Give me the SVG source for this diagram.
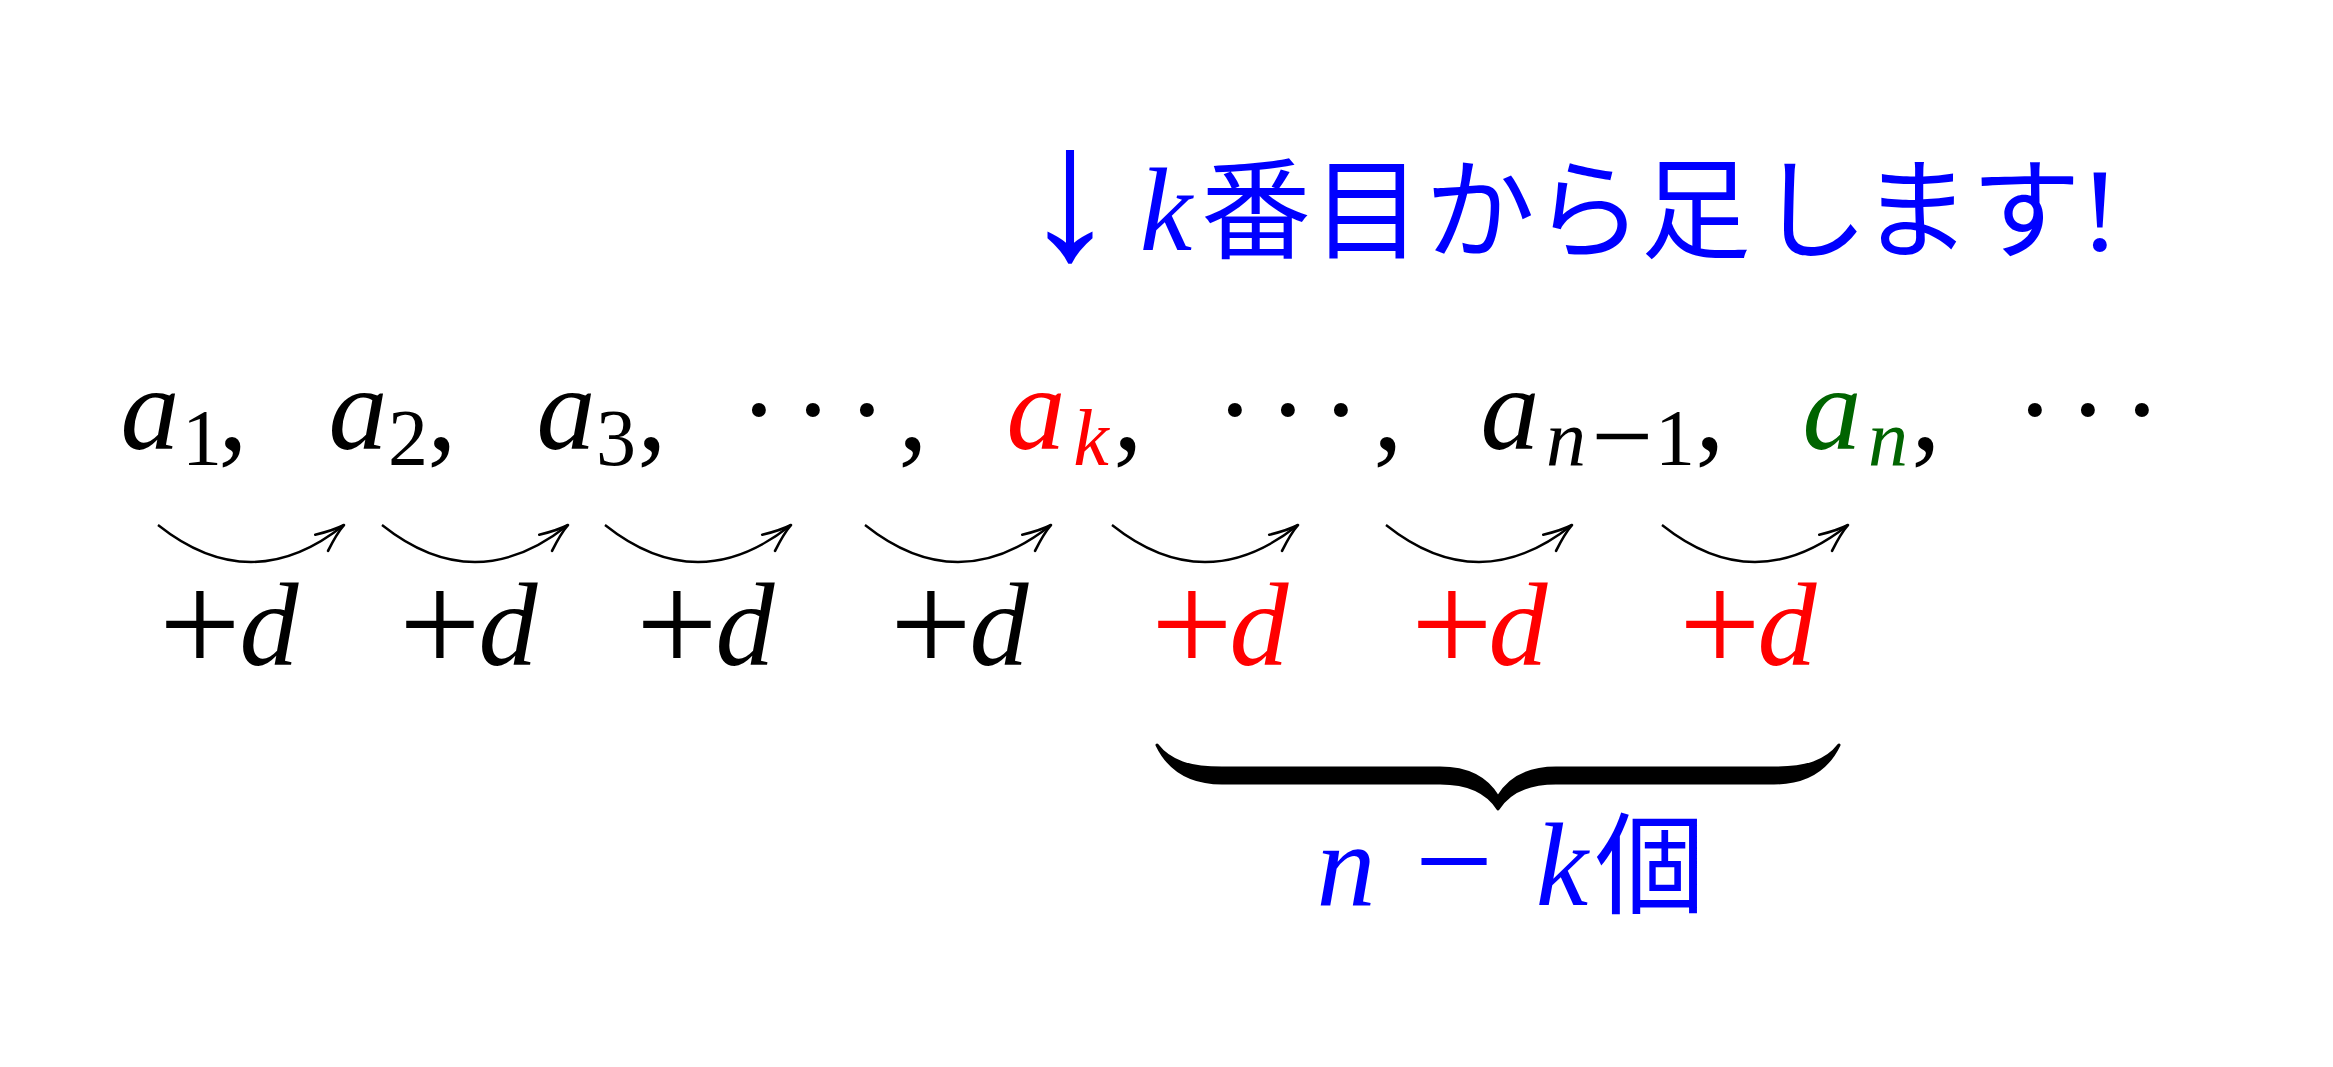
<svg xmlns="http://www.w3.org/2000/svg" width="2333" height="1067" viewBox="0 0 2333 1067">
<style>
  .m { font-family: "Liberation Serif", serif; font-size: 118px; font-style: italic; text-anchor: middle; }
  .u { font-family: "Liberation Serif", serif; font-size: 118px; font-style: normal; text-anchor: middle; }
  .p { font-family: "Liberation Serif", serif; font-size: 145px; font-style: normal; text-anchor: middle; }
  .s { font-family: "Liberation Serif", serif; font-size: 80px; font-style: italic; text-anchor: middle; }
  .su { font-family: "Liberation Serif", serif; font-size: 80px; font-style: normal; text-anchor: middle; }
  .j { font-family: "Noto Sans CJK JP", "Noto Sans CJK SC", sans-serif; font-size: 110px; text-anchor: middle; }
  .blue { fill: #0000ff; }
  .red { fill: #ff0000; }
  .green { fill: #006400; }
  .black { fill: #000000; }
  .arc { fill: none; stroke: #000; stroke-width: 2.3; marker-end: url(#head); }
</style>
<defs>
  <marker id="head" markerUnits="userSpaceOnUse" markerWidth="40" markerHeight="40" viewBox="-30 -15 35 30" refX="0" refY="0" orient="auto" overflow="visible">
    <path d="M -25 -9 Q -10 -2 0 0 Q -10 2 -25 9" fill="none" stroke="#000" stroke-width="2.3" stroke-linecap="round" stroke-linejoin="round"/>
  </marker>
</defs>
<rect width="2333" height="1067" fill="#ffffff"/>

<g id="note">
  <text class="u blue" x="1070" y="258" style="font-size:192px">↓</text>
  <text class="m blue" x="1166" y="250">k</text>
  <text class="j blue" x="1256 1367 1480 1588 1696 1813 1916 2026" y="250">番目から足します</text>
  <text class="u blue" x="2100" y="250">!</text>
</g>

<g id="term-a1">
  <text class="m black" x="150" y="449">a</text>
  <text class="su black" x="202" y="465">1</text>
  <text class="u black" x="233" y="449">,</text>
</g>
<g id="term-a2">
  <text class="m black" x="358" y="449">a</text>
  <text class="su black" x="408" y="465">2</text>
  <text class="u black" x="442" y="449">,</text>
</g>
<g id="term-a3">
  <text class="m black" x="566" y="449">a</text>
  <text class="su black" x="616" y="465">3</text>
  <text class="u black" x="652" y="449">,</text>
</g>
<g id="dots-1">
  <text class="u black" x="759 813 867" y="449">···</text>
  <text class="u black" x="913" y="449">,</text>
</g>
<g id="term-ak">
  <text class="m red" x="1036" y="449">a</text>
  <text class="s red" x="1091" y="465">k</text>
  <text class="u black" x="1128" y="449">,</text>
</g>
<g id="dots-2">
  <text class="u black" x="1235 1288 1341" y="449">···</text>
  <text class="u black" x="1388" y="449">,</text>
</g>
<g id="term-an1">
  <text class="m black" x="1510" y="449">a</text>
  <text class="s black" x="1566" y="465">n</text>
  <text class="su black" x="1622" y="473" style="font-size:110px">−</text>
  <text class="su black" x="1675" y="465">1</text>
  <text class="u black" x="1710" y="449">,</text>
</g>
<g id="term-an">
  <text class="m green" x="1832" y="449">a</text>
  <text class="s green" x="1888" y="465">n</text>
  <text class="u black" x="1926" y="449">,</text>
</g>
<g id="dots-3">
  <text class="u black" x="2035 2088 2142" y="449">···</text>
</g>

<g id="connectors">
  <path class="arc" d="M 158 525 Q 251 599 344 525"/>
  <path class="arc" d="M 382 525 Q 475 599 568 525"/>
  <path class="arc" d="M 605 525 Q 698 599 791 525"/>
  <path class="arc" d="M 865 525 Q 958 599 1051 525"/>
  <path class="arc" d="M 1112 525 Q 1205 599 1298 525"/>
  <path class="arc" d="M 1386 525 Q 1479 599 1572 525"/>
  <path class="arc" d="M 1662 525 Q 1755 599 1848 525"/>
</g>

<g id="inc-1"><text class="p black" x="200" y="672">+</text><text class="m black" x="269" y="665">d</text></g>
<g id="inc-2"><text class="p black" x="440" y="672">+</text><text class="m black" x="508" y="665">d</text></g>
<g id="inc-3"><text class="p black" x="677" y="672">+</text><text class="m black" x="745" y="665">d</text></g>
<g id="inc-4"><text class="p black" x="931" y="672">+</text><text class="m black" x="999" y="665">d</text></g>
<g id="inc-5"><text class="p red" x="1192" y="672">+</text><text class="m red" x="1259" y="665">d</text></g>
<g id="inc-6"><text class="p red" x="1452" y="672">+</text><text class="m red" x="1518" y="665">d</text></g>
<g id="inc-7"><text class="p red" x="1720" y="672">+</text><text class="m red" x="1787" y="665">d</text></g>

<g id="brace">
  <path d="M 1157 745 C 1170 762 1190 768 1222 768 L 1440 768 C 1470 768 1488 780 1498 797 C 1508 780 1526 768 1556 768 L 1774 768 C 1806 768 1826 762 1839 745 C 1826 772 1802 783 1774 783 L 1556 783 C 1530 783 1510 790 1498 809 C 1486 790 1466 783 1440 783 L 1222 783 C 1194 783 1170 772 1157 745 Z" fill="#000" stroke="#000" stroke-width="3" stroke-linejoin="round"/>
</g>

<g id="brace-label">
  <text class="m blue" x="1346" y="905">n</text>
  <text class="u blue" x="1454" y="908" style="font-size:140px">−</text>
  <text class="m blue" x="1562" y="905">k</text>
  <text class="j blue" x="1650" y="905">個</text>
</g>
</svg>
